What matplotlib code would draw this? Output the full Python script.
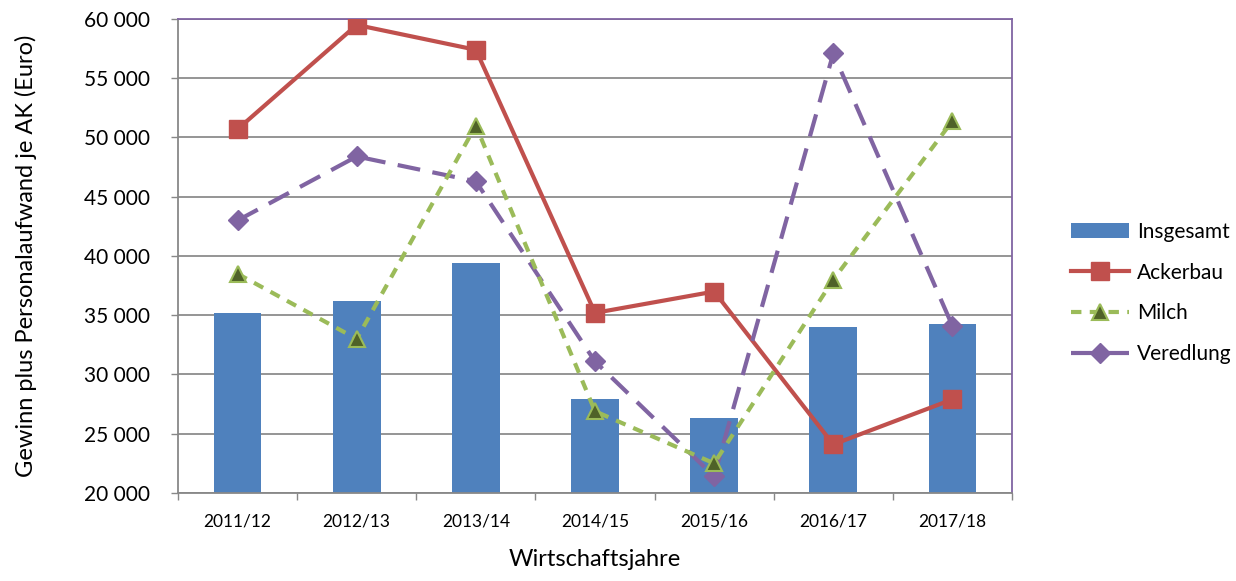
import matplotlib
matplotlib.use("Agg")
import matplotlib.pyplot as plt
from matplotlib.ticker import FuncFormatter, MultipleLocator
import numpy as np

plt.rcParams['font.family'] = ['Lato', 'DejaVu Sans']

years = ["2011/12", "2012/13", "2013/14", "2014/15", "2015/16", "2016/17", "2017/18"]
insgesamt = [35200, 36200, 39400, 27900, 26300, 34000, 34300]
ackerbau = [50700, 59500, 57400, 35200, 37000, 24100, 27900]
milch = [38500, 33000, 51000, 26900, 22500, 38000, 51400]
veredlung = [43000, 48400, 46300, 31100, 21400, 57100, 34100]

fig = plt.figure(figsize=(12.36, 5.81), dpi=100)
ax = fig.add_axes([178/1236, 1-493/581, (1012-178)/1236, (493-19)/581])

x = np.arange(len(years))
h_bar = ax.bar(x, insgesamt, width=0.4, color="#4F81BD", label="Insgesamt", zorder=2)
h_a, = ax.plot(x, ackerbau, color="#C0504D", lw=3, marker="s", ms=12.5, label="Ackerbau", zorder=3)
h_m, = ax.plot(x, milch, color="#9BBB59", lw=3, ls=(0, (2.5, 2)), marker="^", ms=12,
               markerfacecolor="#4F6228", markeredgecolor="#9BBB59", markeredgewidth=1.5,
               label="Milch", zorder=4)
h_v, = ax.plot(x, veredlung, color="#8064A2", lw=3, ls=(0, (5.5, 3)), marker="D", ms=10.5,
               label="Veredlung", zorder=3)

ax.set_ylim(20000, 60000)
ax.set_xlim(-0.5, len(years) - 0.5)
ax.yaxis.set_major_locator(MultipleLocator(5000))
ax.yaxis.set_major_formatter(FuncFormatter(lambda v, p: f"{int(v):,}".replace(",", " ")))
ax.set_xticks(x)
ax.set_xticklabels(years)
ax.set_xticks(np.arange(-0.5, len(years)), minor=True)
ax.tick_params(axis='x', which='major', length=0, pad=15, labelsize=12.5)
ax.tick_params(axis='x', which='minor', length=5, color="#888888", width=1)
ax.tick_params(axis='y', length=5, color="#888888", width=1, labelsize=15, pad=15)

ax.grid(axis='y', color="#8C8C8C", lw=1.3, zorder=0)
ax.set_axisbelow(True)
for s in ['left', 'bottom']:
    ax.spines[s].set_color("#888888")
    ax.spines[s].set_linewidth(1.3)
for s in ['top', 'right']:
    ax.spines[s].set_color("#8064A2")
    ax.spines[s].set_linewidth(1.3)

ax.set_ylabel("Gewinn plus Personalaufwand je AK (Euro)", fontsize=17, labelpad=34)
ax.set_xlabel("Wirtschaftsjahre", fontsize=17, labelpad=14)

fig.legend(handles=[h_bar, h_a, h_m, h_v], loc="center left",
           bbox_to_anchor=(1052/1236, 1-293/581), frameon=False,
           fontsize=15, handlelength=2.8, labelspacing=1.0, handletextpad=0.4)

fig.savefig("out.png", dpi=100)
